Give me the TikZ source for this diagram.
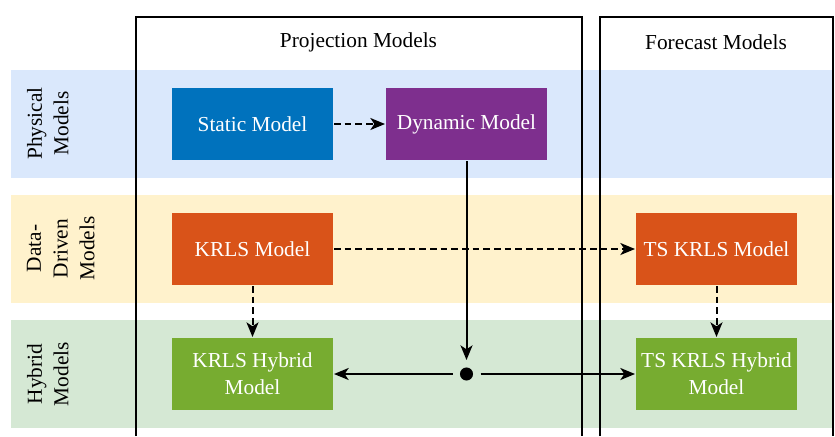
\documentclass[tikz,border=0pt]{standalone}
\usepackage{fontspec}
\setmainfont{Liberation Serif}
\usetikzlibrary{arrows.meta}
\definecolor{BandBlue}{HTML}{DAE8FC}
\definecolor{BandYellow}{HTML}{FFF2CC}
\definecolor{BandGreen}{HTML}{D5E8D4}
\definecolor{ModelBlue}{HTML}{0072BD}
\definecolor{ModelPurple}{HTML}{7E2F8E}
\definecolor{ModelOrange}{HTML}{D95319}
\definecolor{ModelGreen}{HTML}{77AC30}
\tikzset{
    lanes/diagram/.style={
        font=\fontsize{16}{20}\selectfont,
        line width=1.5pt,
        >={Stealth[length=11pt, width=9pt, inset=3pt]}
    },
    lanes/band/.style={draw=none},
    lanes/column/.style={draw=black, line width=1.5pt},
    lanes/rowlabel/.style={
        rotate=90, anchor=north, align=center, inner sep=0pt
    },
    lanes/model/.style={
        minimum width=120.75pt, minimum height=54pt, inner sep=2pt,
        align=center, text=white, draw=none
    },
    lanes/flow/.style={draw=black, ->},
    lanes/derived/.style={
        draw=black, ->, dash pattern=on 5pt off 3pt
    },
    lanes/hub/.style={circle, minimum size=19.5pt, inner sep=0pt}
}
\begin{document}
\begin{tikzpicture}[lanes/diagram, x=0.75pt, y=-0.75pt]
    \useasboundingbox (0,0) rectangle (835,436);

    \fill[lanes/band, BandBlue] (11,70) rectangle (833,177.5);
    \fill[lanes/band, BandYellow] (11,195) rectangle (833,302.5);
    \fill[lanes/band, BandGreen] (11,320) rectangle (833,427.5);

    \node[lanes/rowlabel] (physical) at (26,123.5) {Physical\\Models};
    \node[lanes/rowlabel] (datadriven) at (26,248.5) {Data-\\Driven\\Models};
    \node[lanes/rowlabel] (hybrid) at (26,374) {Hybrid\\Models};

    \draw[lanes/column] (136,436) -- (136,17) -- (581.5,17) -- (581.5,436);
    \draw[lanes/column] (600,436) -- (600,17) -- (832.5,17) -- (832.5,436);
    \node (projection) at (358.5,42) {Projection Models};
    \node (forecast) at (716,42) {Forecast Models};

    \node[lanes/model, fill=ModelBlue] (static) at (252.5,124) {Static Model};
    \node[lanes/model, fill=ModelPurple] (dynamic) at (466.5,124) {Dynamic Model};
    \node[lanes/model, fill=ModelOrange] (krls) at (252.5,249) {KRLS Model};
    \node[lanes/model, fill=ModelOrange] (tskrls) at (716.5,249) {TS KRLS Model};
    \node[lanes/model, fill=ModelGreen] (krlshybrid) at (252.5,374)
        {KRLS Hybrid\\Model};
    \node[lanes/model, fill=ModelGreen] (tskrlshybrid) at (716.5,374)
        {TS KRLS Hybrid\\Model};

    \node[lanes/hub] (hub) at (466.5,374) {};
    \fill (hub.center) circle[radius=4.9pt];

    \draw[lanes/derived] (static) -- (dynamic);
    \draw[lanes/derived] (krls) -- (tskrls);
    \draw[lanes/derived] (krls) -- (krlshybrid);
    \draw[lanes/derived] (tskrls) -- (tskrlshybrid);
    \draw[lanes/flow] (dynamic) -- (hub);
    \draw[lanes/flow] (hub) -- (krlshybrid);
    \draw[lanes/flow] (hub) -- (tskrlshybrid);
\end{tikzpicture}
\end{document}
